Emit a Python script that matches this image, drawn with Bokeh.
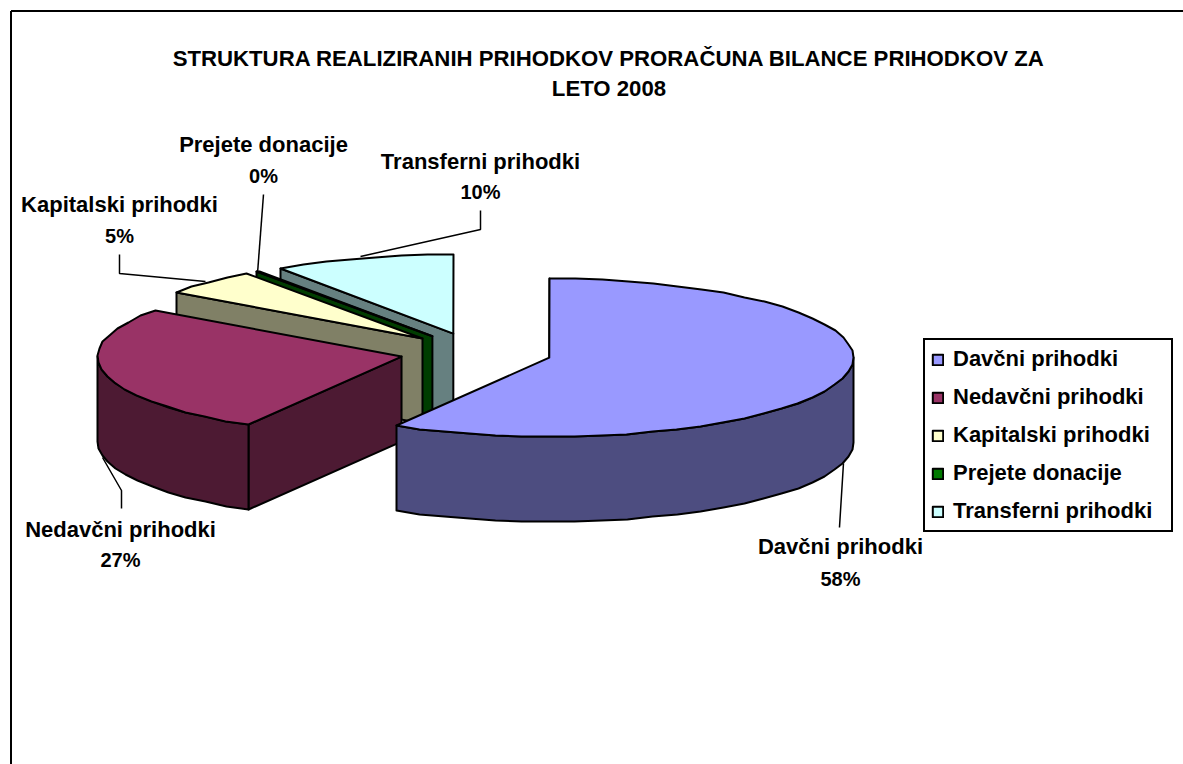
import math
from bokeh.plotting import figure
from bokeh.models import Range1d, Legend, LegendItem
from bokeh.core.properties import value
from bokeh.embed import file_html
from bokeh.resources import INLINE

# ---- data ----
categories = ["Davčni prihodki", "Nedavčni prihodki", "Kapitalski prihodki", "Prejete donacije", "Transferni prihodki"]
shares = [58.4, 26.6, 5.2, 0.2, 9.6]
percent_labels = ["58%", "27%", "5%", "0%", "10%"]
title_lines = ["STRUKTURA REALIZIRANIH PRIHODKOV PRORAČUNA BILANCE PRIHODKOV ZA", "LETO 2008"]
top_colors = ["#9999FF", "#993366", "#FFFFCC", "#007A00", "#CCFFFF"]
wall_colors = ["#4D4D80", "#4D1A33", "#808066", "#003D00", "#668080"]

# ---- layout (page pixels) ----
W, H = 1183, 764
CX, CY, RX, RY, DEPTH, EXPLODE = 475.4, 352.0, 304.0, 79.0, 85.0, 76.0
STEP = 5.0
label_pos = [(840, 546, 578), (120, 529, 559), (119, 204, 235), (263, 144, 175), (480, 161, 191)]
leaders = [
    ([843, 839], [463, 527]),
    ([102, 121, 121], [457, 490, 508]),
    ([119, 119, 205], [254, 273, 281]),
    ([263, 257], [194, 273]),
    ([480, 480, 360], [210, 229, 256]),
]

p = figure(width=W, height=H, x_range=Range1d(0, W), y_range=Range1d(H, 0),
           output_backend="svg", toolbar_location=None, min_border=0, outline_line_color=None)
p.xaxis.visible = False
p.yaxis.visible = False
p.grid.visible = False

LW = 2

def rim(ax, ay, a0, a1, dy=0.0):
    n = max(1, int(round(abs(a1 - a0) / STEP)))
    xs, ys = [], []
    for i in range(n + 1):
        a = math.radians(a0 + (a1 - a0) * i / n)
        xs.append(round(ax + RX * math.sin(a)))
        ys.append(round(ay - RY * math.cos(a) + dy))
    return xs, ys

# slices are worked out from the shares, clockwise from 12 o'clock
total = sum(shares)
starts, ends, acc = [], [], 0.0
for v in shares:
    starts.append(acc / total * 360)
    acc += v
    ends.append(acc / total * 360)

tops = {}
for i in [4, 3, 2, 1, 0]:  # back to front
    a0, a1 = starts[i], ends[i]
    mid = math.radians((a0 + a1) / 2)
    ax = CX + EXPLODE * math.sin(mid)
    ay = CY - EXPLODE * RY / RX * math.cos(mid)
    # flat face on the starting edge
    sx, sy = rim(ax, ay, a0, a0)
    p.patch([ax, sx[0], sx[0], ax], [ay, sy[0], sy[0] + DEPTH, ay + DEPTH],
            fill_color=wall_colors[i], line_color="black", line_width=LW, line_join="round")
    # outer wall for the part of the rim facing the viewer
    b0, b1 = max(a0, 90.0), min(a1, 270.0)
    if b1 > b0:
        xt, yt = rim(ax, ay, b0, b1)
        xb, yb = rim(ax, ay, b0, b1, DEPTH)
        p.patch(xt + xb[::-1], yt + yb[::-1], fill_color=wall_colors[i],
                line_color="black", line_width=LW, line_join="round")
    # top surface
    xt, yt = rim(ax, ay, a0, a1)
    tops[i] = p.patch([ax] + xt, [ay] + yt, fill_color=top_colors[i],
                      line_color="black", line_width=LW, line_join="round")

# outer frame
p.line([10.5, 10.5], [H, 10.5], line_color="black", line_width=2)
p.line([10.5, W], [10.5, 10.5], line_color="black", line_width=2)

# title
p.text([608.5, 608.5], [58, 88], text=title_lines, text_align="center", text_baseline="middle",
       text_font=value("Liberation Sans"), text_font_style="bold", text_font_size="22.2px",
       text_color="black")

# leader lines
for lx, ly in leaders:
    p.line(lx, ly, line_color="black", line_width=1.5)

# data labels
lab_x = [q[0] for q in label_pos]
p.text(lab_x, [q[1] for q in label_pos], text=categories, text_align="center", text_baseline="middle",
       text_font=value("Liberation Sans"), text_font_style="bold", text_font_size="22px", text_color="black")
p.text(lab_x, [q[2] for q in label_pos], text=percent_labels, text_align="center", text_baseline="middle",
       text_font=value("Liberation Sans"), text_font_style="bold", text_font_size="20px", text_color="black")

legend = Legend(
    items=[LegendItem(label=c, renderers=[tops[i]]) for i, c in enumerate(categories)],
    location=(923, H - 532), orientation="vertical",
    glyph_width=13, glyph_height=13, label_standoff=9, spacing=12, padding=6, margin=0,
    label_text_font="Liberation Sans", label_text_font_style="bold", label_text_font_size="22px",
    label_text_color="black", label_height=20, label_width=212,
    border_line_color="black", border_line_alpha=1, border_line_width=2,
    background_fill_alpha=1, background_fill_color="white",
)
p.add_layout(legend, "center")

open("out.html", "w").write(file_html(p, INLINE))
